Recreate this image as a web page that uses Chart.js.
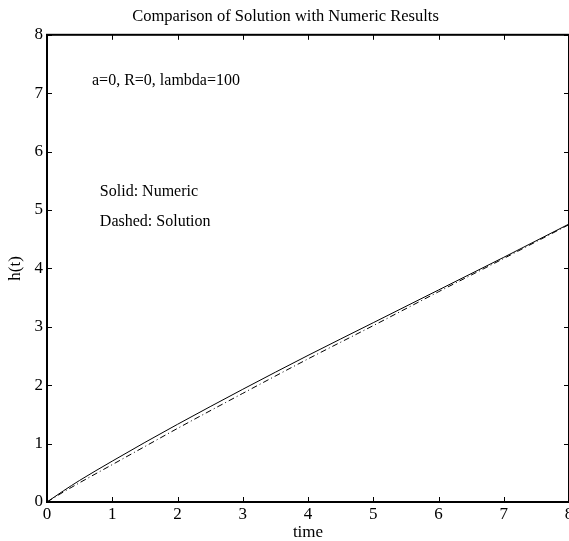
<!DOCTYPE html>
<html>
<head>
<meta charset="utf-8">
<script src="https://cdn.jsdelivr.net/npm/chart.js@4/dist/chart.umd.min.js"></script>
<style>
  html, body { margin: 0; padding: 0; background: #fff; }
  canvas { display: block; }
</style>
</head>
<body>
<canvas id="heightChart" width="569" height="541"></canvas>
<script>
// sample times and the two height curves
const times    = [0, 0.25, 0.5, 1, 1.5, 2, 3, 4, 5, 6, 7, 8];
const numeric  = [0, 0.19, 0.37, 0.70, 1.02, 1.33, 1.93, 2.51, 3.07, 3.63, 4.19, 4.76];
const solution = [0, 0.17, 0.33, 0.64, 0.95, 1.26, 1.86, 2.45, 3.02, 3.60, 4.17, 4.75];

const xTicks = [0, 1, 2, 3, 4, 5, 6, 7, 8];
const yTicks = [0, 1, 2, 3, 4, 5, 6, 7, 8];

// text notes placed in data units (time, h)
const noteTexts = ["a=0, R=0, lambda=100", "Solid: Numeric", "Dashed: Solution"];
const noteX = [0.69, 0.81, 0.81];
const noteY = [7.22, 5.32, 4.80];

const serif = "'Liberation Serif', 'Times New Roman', serif";

function toPoints(xs, ys) {
    return xs.map((x, i) => ({x: x, y: ys[i]}));
}

// box round the plot with ticks pointing inwards, plus the notes
const frameAndNotes = {
    id: "frameAndNotes",
    afterDatasetsDraw(chart) {
        const ctx = chart.ctx;
        const area = chart.chartArea;
        const xs = chart.scales.x;
        const ys = chart.scales.y;
        const tick = 5;

        ctx.save();
        ctx.strokeStyle = "#000";
        ctx.lineWidth = 1;
        ctx.beginPath();
        xTicks.forEach(v => {
            const px = Math.round(xs.getPixelForValue(v)) + 0.5;
            ctx.moveTo(px, area.bottom); ctx.lineTo(px, area.bottom - tick);
            ctx.moveTo(px, area.top); ctx.lineTo(px, area.top + tick);
        });
        yTicks.forEach(v => {
            const py = Math.round(ys.getPixelForValue(v)) + 0.5;
            ctx.moveTo(area.left, py); ctx.lineTo(area.left + tick, py);
            ctx.moveTo(area.right, py); ctx.lineTo(area.right - tick, py);
        });
        ctx.stroke();

        ctx.lineWidth = 2;
        ctx.strokeRect(area.left, area.top, area.right - area.left, area.bottom - area.top);

        ctx.fillStyle = "#000";
        ctx.font = "16px " + serif;
        ctx.textAlign = "left";
        ctx.textBaseline = "middle";
        noteTexts.forEach((t, i) => {
            ctx.fillText(t, xs.getPixelForValue(noteX[i]), ys.getPixelForValue(noteY[i]));
        });
        ctx.restore();
    }
};

new Chart("heightChart", {
    type: "line",
    data: {
        datasets: [{
            label: "Numeric",
            data: toPoints(times, numeric),
            borderColor: "#000",
            borderWidth: 1,
            pointRadius: 0,
            cubicInterpolationMode: "monotone"
        }, {
            label: "Solution",
            data: toPoints(times, solution),
            borderColor: "#000",
            borderWidth: 1,
            borderDash: [6, 3, 1, 3],
            pointRadius: 0,
            cubicInterpolationMode: "monotone"
        }]
    },
    options: {
        responsive: false,
        animation: false,
        devicePixelRatio: 1,
        layout: {padding: {left: 0, right: -2, top: 0, bottom: 0}},
        plugins: {
            legend: {display: false},
            tooltip: {enabled: false},
            title: {
                display: true,
                text: "Comparison of Solution with Numeric Results",
                color: "#000",
                font: {family: serif, size: 16.5, weight: "normal"},
                padding: {top: 7, bottom: 8}
            }
        },
        scales: {
            x: {
                type: "linear",
                min: 0,
                max: 8,
                afterBuildTicks: s => { s.ticks = xTicks.map(v => ({value: v})); },
                afterFit: s => { s.height = 39; s.paddingRight = 0; s.paddingLeft = 0; },
                ticks: {color: "#000", font: {family: serif, size: 17, lineHeight: 1}, padding: 4, maxRotation: 0},
                grid: {display: false, drawTicks: false},
                border: {display: false},
                title: {display: true, text: "time", color: "#000", font: {family: serif, size: 17, lineHeight: 1}, padding: {top: 0, bottom: 0}}
            },
            y: {
                min: 0,
                max: 8,
                afterBuildTicks: s => { s.ticks = yTicks.map(v => ({value: v})); },
                afterFit: s => { s.width = 47; s.paddingTop = 0; s.paddingBottom = 0; },
                ticks: {color: "#000", font: {family: serif, size: 17}, padding: 4},
                grid: {display: false, drawTicks: false},
                border: {display: false},
                title: {display: true, text: "h(t)", color: "#000", font: {family: serif, size: 17, lineHeight: 1}, padding: {top: 7.5, bottom: 0}}
            }
        }
    },
    plugins: [frameAndNotes]
});
</script>
</body>
</html>
